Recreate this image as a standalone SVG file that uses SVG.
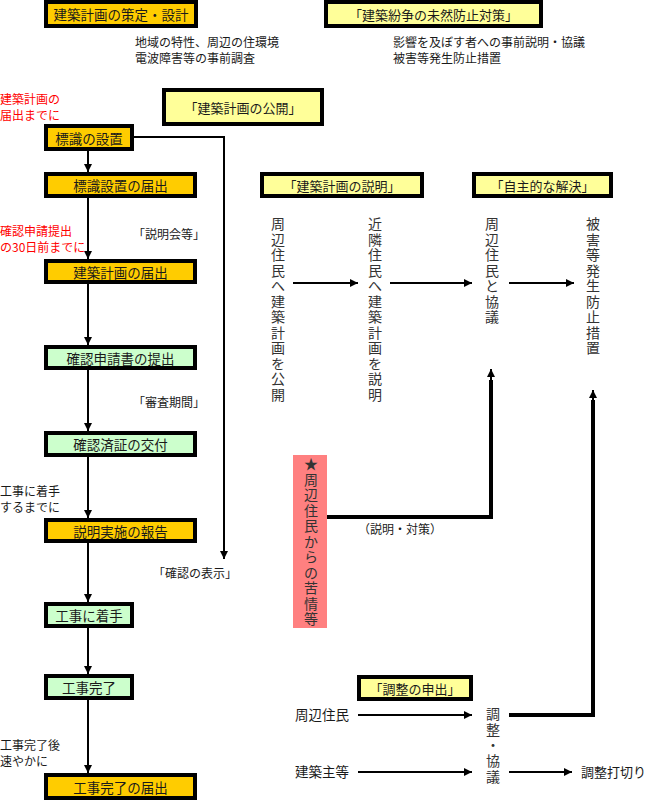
<svg xmlns="http://www.w3.org/2000/svg" width="647" height="801" viewBox="0 0 647 801">
<defs>
<style>
text{font-family:"Noto Sans CJK JP","Noto Sans",sans-serif;fill:#1a1a1a}
.box{stroke:#000;stroke-width:4}
.or{fill:#FFCC00}.ye{fill:#FFFF99}.gr{fill:#CCFFCC}
.bt{font-size:13.5px;text-anchor:middle;dominant-baseline:central}
.ht{font-size:13px;text-anchor:middle;dominant-baseline:central}
.note{font-size:12px}
.red{font-size:12px;fill:#FF0000}
.vt{font-size:14px;text-anchor:middle;dominant-baseline:central;fill:#333}
.ln{fill:none;stroke:#000;stroke-width:2}
.thk{fill:none;stroke:#000;stroke-width:4}
</style>
<marker id="ah" viewBox="0 0 8 8" markerUnits="userSpaceOnUse" markerWidth="8" markerHeight="8" refX="8" refY="4" orient="auto"><path d="M0,0 L8,4 L0,8 z" fill="#000"/></marker>
</defs>

<g id="connectors">
<path class="ln" d="M88,150 V172" marker-end="url(#ah)"/>
<path class="ln" d="M88,198 V259" marker-end="url(#ah)"/>
<path class="ln" d="M88,284 V345" marker-end="url(#ah)"/>
<path class="ln" d="M88,370 V431" marker-end="url(#ah)"/>
<path class="ln" d="M88,457 V518" marker-end="url(#ah)"/>
<path class="ln" d="M88,543 V602" marker-end="url(#ah)"/>
<path class="ln" d="M88,628 V674" marker-end="url(#ah)"/>
<path class="ln" d="M88,700 V773" marker-end="url(#ah)"/>
<path class="ln" d="M134,137 H224 V559" marker-end="url(#ah)"/>
<path class="ln" d="M293,283 H358" marker-end="url(#ah)"/>
<path class="ln" d="M390,283 H472" marker-end="url(#ah)"/>
<path class="ln" d="M509,283 H574" marker-end="url(#ah)"/>
<path class="thk" d="M327,517 H491 V380"/>
<path class="ln" d="M491,385 V369" stroke-width="3" marker-end="url(#ah)"/>
<path class="thk" d="M509,715 H593 V400"/>
<path class="ln" d="M593,405 V390" stroke-width="3" marker-end="url(#ah)"/>
<path class="ln" d="M358,715 H472" marker-end="url(#ah)"/>
<path class="ln" d="M358,772 H472" marker-end="url(#ah)"/>
<path class="ln" d="M509,772 H572" marker-end="url(#ah)"/>
</g>

<g id="n-sakutei"><rect class="box or" x="46" y="2" width="150" height="24"/><text class="bt" x="121" y="14">建築計画の策定・設計</text></g>
<g id="n-funso"><rect class="box ye" x="326" y="2" width="215" height="24"/><text class="ht" x="433.5" y="14">「建築紛争の未然防止対策」</text></g>
<g id="n-note1"><text class="note" x="135" y="47">地域の特性、周辺の住環境</text><text class="note" x="135" y="63">電波障害等の事前調査</text></g>
<g id="n-note2"><text class="note" x="393" y="47">影響を及ぼす者への事前説明・協議</text><text class="note" x="393" y="63">被害等発生防止措置</text></g>
<g id="n-red1"><text class="red" x="0" y="104">建築計画の</text><text class="red" x="0" y="120">届出までに</text></g>
<g id="n-kokai"><rect class="box ye" x="164" y="90" width="158" height="34"/><text class="ht" x="243" y="107">「建築計画の公開」</text></g>
<g id="n-hyoshiki"><rect class="box or" x="46" y="126" width="86" height="23"/><text class="bt" x="89" y="137.5">標識の設置</text></g>
<g id="n-hyoshikitodoke"><rect class="box or" x="46" y="174" width="149" height="22"/><text class="bt" x="120.5" y="185">標識設置の届出</text></g>
<g id="n-red2"><text class="red" x="0" y="236">確認申請提出</text><text class="red" x="0" y="252">の30日前までに</text></g>
<g id="n-setsumeikai"><text class="note" x="133" y="239">「説明会等」</text></g>
<g id="n-keikakutodoke"><rect class="box or" x="46" y="261" width="149" height="21"/><text class="bt" x="120.5" y="271.5">建築計画の届出</text></g>
<g id="n-shinsei"><rect class="box gr" x="46" y="347" width="149" height="21"/><text class="bt" x="120.5" y="357.5">確認申請書の提出</text></g>
<g id="n-shinsa"><text class="note" x="133" y="407">「審査期間」</text></g>
<g id="n-kofu"><rect class="box gr" x="46" y="433" width="149" height="22"/><text class="bt" x="120.5" y="444">確認済証の交付</text></g>
<g id="n-note3"><text class="note" x="0" y="496">工事に着手</text><text class="note" x="0" y="512">するまでに</text></g>
<g id="n-hokoku"><rect class="box or" x="46" y="520" width="149" height="21"/><text class="bt" x="120.5" y="530.5">説明実施の報告</text></g>
<g id="n-hyoji"><text class="note" x="153" y="578">「確認の表示」</text></g>
<g id="n-chakushu"><rect class="box gr" x="46" y="604" width="86" height="22"/><text class="bt" x="89" y="615">工事に着手</text></g>
<g id="n-kanryo"><rect class="box gr" x="46" y="676" width="86" height="22"/><text class="bt" x="89" y="687">工事完了</text></g>
<g id="n-note4"><text class="note" x="0" y="750">工事完了後</text><text class="note" x="0" y="766">速やかに</text></g>
<g id="n-kanryotodoke"><rect class="box or" x="46" y="775" width="149" height="23"/><text class="bt" x="120.5" y="786.5">工事完了の届出</text></g>

<g id="n-setsumei"><rect class="box ye" x="262" y="174" width="160" height="22"/><text class="ht" x="342" y="185">「建築計画の説明」</text></g>
<g id="n-jishu"><rect class="box ye" x="474" y="174" width="137" height="22"/><text class="ht" x="542.5" y="185">「自主的な解決」</text></g>

<g id="n-col1"><text class="vt"><tspan x="278" y="223">周</tspan><tspan x="278" y="238.5">辺</tspan><tspan x="278" y="254">住</tspan><tspan x="278" y="269.5">民</tspan><tspan x="278" y="285">へ</tspan><tspan x="278" y="300.5">建</tspan><tspan x="278" y="316">築</tspan><tspan x="278" y="331.5">計</tspan><tspan x="278" y="347">画</tspan><tspan x="278" y="362.5">を</tspan><tspan x="278" y="378">公</tspan><tspan x="278" y="393.5">開</tspan></text></g>
<g id="n-col2"><text class="vt"><tspan x="375" y="223">近</tspan><tspan x="375" y="238.5">隣</tspan><tspan x="375" y="254">住</tspan><tspan x="375" y="269.5">民</tspan><tspan x="375" y="285">へ</tspan><tspan x="375" y="300.5">建</tspan><tspan x="375" y="316">築</tspan><tspan x="375" y="331.5">計</tspan><tspan x="375" y="347">画</tspan><tspan x="375" y="362.5">を</tspan><tspan x="375" y="378">説</tspan><tspan x="375" y="393.5">明</tspan></text></g>
<g id="n-col3"><text class="vt"><tspan x="492" y="223">周</tspan><tspan x="492" y="238.5">辺</tspan><tspan x="492" y="254">住</tspan><tspan x="492" y="269.5">民</tspan><tspan x="492" y="285">と</tspan><tspan x="492" y="300.5">協</tspan><tspan x="492" y="316">議</tspan></text></g>
<g id="n-col4"><text class="vt"><tspan x="593" y="223">被</tspan><tspan x="593" y="238.5">害</tspan><tspan x="593" y="254">等</tspan><tspan x="593" y="269.5">発</tspan><tspan x="593" y="285">生</tspan><tspan x="593" y="300.5">防</tspan><tspan x="593" y="316">止</tspan><tspan x="593" y="331.5">措</tspan><tspan x="593" y="347">置</tspan></text></g>

<g id="n-kujo"><rect x="293" y="455" width="34" height="173" fill="#FF8080"/><text class="vt"><tspan x="311" y="463">★</tspan><tspan x="311" y="478.5">周</tspan><tspan x="311" y="494">辺</tspan><tspan x="311" y="509.5">住</tspan><tspan x="311" y="525">民</tspan><tspan x="311" y="540.5">か</tspan><tspan x="311" y="556">ら</tspan><tspan x="311" y="571.5">の</tspan><tspan x="311" y="587">苦</tspan><tspan x="311" y="602.5">情</tspan><tspan x="311" y="618">等</tspan></text></g>
<g id="n-taisaku"><text class="note" x="358" y="534">（説明・対策）</text></g>

<g id="n-moushide"><rect class="box ye" x="359" y="677" width="112" height="22"/><text class="ht" x="415" y="688">「調整の申出」</text></g>
<g id="n-jumin"><text x="295" y="720" font-size="13.5" fill="#333">周辺住民</text></g>
<g id="n-kenchikunushi"><text x="295" y="777" font-size="13.5" fill="#333">建築主等</text></g>
<g id="n-chosei"><text class="vt"><tspan x="493" y="713">調</tspan><tspan x="493" y="729">整</tspan><tspan x="493" y="744">・</tspan><tspan x="493" y="760">協</tspan><tspan x="493" y="776">議</tspan></text></g>
<g id="n-uchikiri"><text x="581" y="777" font-size="13">調整打切り</text></g>
</svg>
